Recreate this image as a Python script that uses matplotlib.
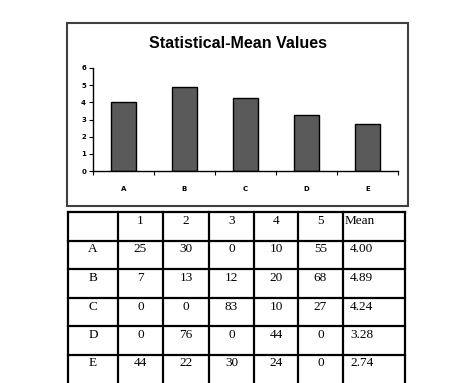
import matplotlib
matplotlib.use("Agg")
import matplotlib.pyplot as plt
from matplotlib.patches import Rectangle

# data
groups = ["A", "B", "C", "D", "E"]
scores = ["1", "2", "3", "4", "5"]
counts = [
    [25, 30, 0, 10, 55],
    [7, 13, 12, 20, 68],
    [0, 0, 83, 10, 27],
    [0, 76, 0, 44, 0],
    [44, 22, 30, 24, 0],
]
means = [4.00, 4.89, 4.24, 3.28, 2.74]

W, H = 474, 383
fig = plt.figure(figsize=(W / 100, H / 100), dpi=100)

def fx(px):
    return px / W

def fy(py):
    return 1 - py / H

# outer chart box
fig.patches.append(Rectangle((fx(67), fy(206)), fx(408) - fx(67), fy(23) - fy(206),
                             transform=fig.transFigure, fill=False,
                             edgecolor="#404040", linewidth=1.5))

fig.text(fx(238), fy(44), "Statistical-Mean Values", ha="center", va="center",
         fontsize=11.5, fontweight="bold", family="Liberation Sans")

ax = fig.add_axes([fx(93), fy(171), fx(398) - fx(93), fy(68) - fy(171)])
x = range(len(groups))
ax.bar(x, means, width=0.4, color="#5a5a5a", edgecolor="black", linewidth=1)
ax.set_xlim(-0.5, len(groups) - 0.5)
ax.set_ylim(0, 6)
ax.set_yticks(range(7))
ax.tick_params(axis="y", labelsize=5, length=3, width=0.8, pad=2)
ax.set_xticks(list(x))
ax.set_xticklabels(groups)
ax.tick_params(axis="x", labelsize=5, length=0, pad=11)
ax.set_xticks([i + 0.5 for i in range(-1, len(groups))], minor=True)
ax.tick_params(axis="x", which="minor", length=3, width=0.8)
for s in ["top", "right"]:
    ax.spines[s].set_visible(False)
ax.spines["left"].set_linewidth(1)
ax.spines["bottom"].set_linewidth(1)
for lab in ax.get_xticklabels() + ax.get_yticklabels():
    lab.set_fontweight("bold")

# table
tax = fig.add_axes([0, 0, 1, 1])
tax.set_xlim(0, W)
tax.set_ylim(H, 0)
tax.axis("off")
col_edges = [68, 118, 163, 209, 254, 298, 343, 405]
row_top = 212
row_h = 28.5
n_rows = len(groups) + 1
for cx in col_edges:
    tax.plot([cx, cx], [row_top, H + 5], color="black", linewidth=1.6)
for r in range(n_rows):
    yy = row_top + r * row_h
    tax.plot([col_edges[0], col_edges[-1]], [yy, yy], color="black", linewidth=1.6)

tfont = dict(fontsize=9.5, family="Liberation Serif", va="center", ha="center")
header = [""] + scores + ["Mean"]
for c, txt in enumerate(header):
    xc = (col_edges[c] + col_edges[c + 1]) / 2
    if txt == "Mean":
        tax.text(col_edges[c] + 2, row_top + 9, txt, **{**tfont, "ha": "left"})
    else:
        tax.text(xc, row_top + 9, txt, **tfont)
for r, g in enumerate(groups):
    yc = row_top + (r + 1) * row_h + 9
    row = [g] + [str(v) for v in counts[r]]
    for c, txt in enumerate(row):
        xc = (col_edges[c] + col_edges[c + 1]) / 2
        tax.text(xc, yc, txt, **tfont)
    tax.text(col_edges[6] + 7, yc, f"{means[r]:.2f}", **{**tfont, "ha": "left"})

fig.savefig("out.png", dpi=100)
